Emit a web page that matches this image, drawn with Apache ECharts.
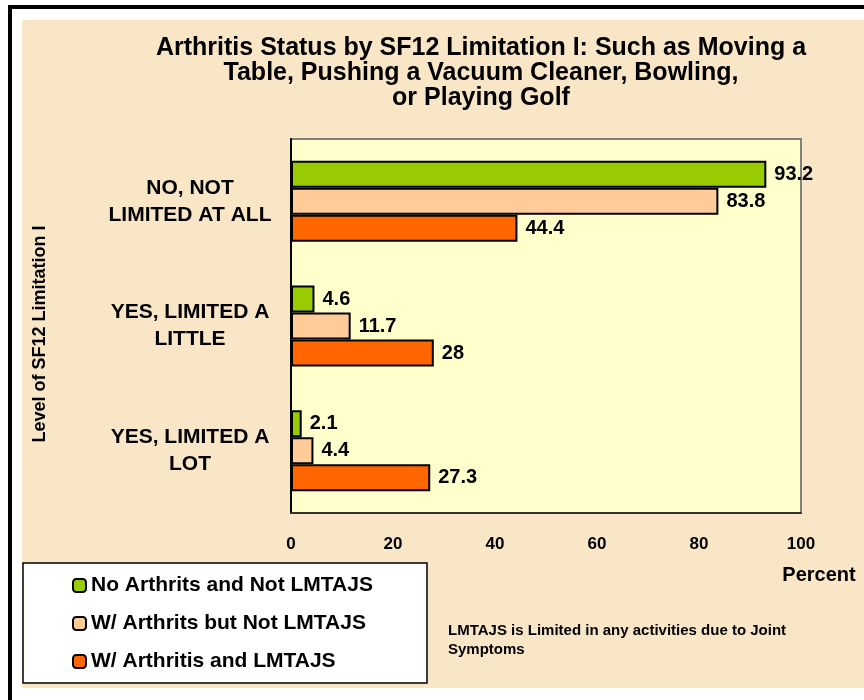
<!DOCTYPE html>
<html>
<head>
<meta charset="utf-8">
<title>Arthritis Status by SF12 Limitation I</title>
<script src="https://cdn.jsdelivr.net/npm/echarts@6/dist/echarts.min.js"></script>
<style>
    html, body { margin: 0; padding: 0; background: #fff; }
    #container { width: 864px; height: 700px; }
</style>
</head>
<body>
<div id="container"></div>
<script>
    var categories = ['NO, NOT\nLIMITED AT ALL', 'YES, LIMITED A\nLITTLE', 'YES, LIMITED A\nLOT'];
    var seriesNames = ['No Arthrits and Not LMTAJS', 'W/ Arthrits but Not LMTAJS', 'W/ Arthritis and LMTAJS'];
    var noArthritis = [93.2, 4.6, 2.1];
    var arthritisNotLimited = [83.8, 11.7, 4.4];
    var arthritisLimited = [44.4, 28, 27.3];
    var xTicks = [0, 20, 40, 60, 80, 100];
    var colors = ['#99CC00', '#FFCC99', '#FF6600'];

    var font = 'Liberation Sans, Arial, sans-serif';

    function makeSeries(name, data, color) {
        return {
            name: name,
            type: 'bar',
            data: data,
            barGap: '0%',
            barCategoryGap: '35%',
            itemStyle: { color: color, borderColor: '#000', borderWidth: 2 },
            label: {
                show: true,
                position: 'right',
                distance: 8,
                color: '#000',
                fontFamily: font,
                fontWeight: 'bold',
                fontSize: 20
            },
            emphasis: { disabled: true }
        };
    }

    var myChart = echarts.init(document.getElementById('container'));
    var option = {
        animation: false,
        textStyle: { fontFamily: font },
        graphic: [
            { type: 'rect', z: -10, shape: { x: 10, y: 7, width: 880, height: 720 },
              style: { fill: 'none', stroke: '#000', lineWidth: 4 } },
            { type: 'rect', z: -9, shape: { x: 22, y: 20, width: 842, height: 668 },
              style: { fill: '#F8E6C6' } },
            { type: 'rect', z: -8, shape: { x: 23, y: 563, width: 404, height: 120 },
              style: { fill: '#fff', stroke: '#000', lineWidth: 1.5 } },
            { type: 'text', x: 481, y: 73, style: {
                text: 'Arthritis Status by SF12 Limitation I: Such as Moving a\nTable, Pushing a Vacuum Cleaner, Bowling,\nor Playing Golf',
                font: 'bold 25px ' + font, fill: '#000', align: 'center', verticalAlign: 'middle', lineHeight: 25 } },
            { type: 'text', x: 40, y: 334, rotation: Math.PI / 2, style: {
                text: 'Level of SF12 Limitation I',
                font: 'bold 18px ' + font, fill: '#000', align: 'center', verticalAlign: 'middle' } },
            { type: 'text', x: 819, y: 575, style: {
                text: 'Percent',
                font: 'bold 20px ' + font, fill: '#000', align: 'center', verticalAlign: 'middle' } },
            { type: 'text', x: 448, y: 640, style: {
                text: 'LMTAJS is Limited in any activities due to Joint\nSymptoms',
                font: 'bold 15px ' + font, fill: '#000', align: 'left', verticalAlign: 'middle', lineHeight: 19 } }
        ],
        legend: {
            orient: 'vertical',
            left: 23,
            top: 563,
            padding: [12, 10, 10, 49],
            itemWidth: 13,
            itemHeight: 13,
            itemGap: 17,
            data: seriesNames,
            selectedMode: false,
            textStyle: { fontFamily: font, fontWeight: 'bold', fontSize: 21, color: '#000', padding: [0, 0, 0, 0] }
        },
        grid: {
            left: 291, top: 139, right: 63, bottom: 187,
            show: true, backgroundColor: '#FFFFCC', borderColor: '#808080', borderWidth: 2
        },
        xAxis: {
            type: 'value',
            min: xTicks[0],
            max: xTicks[xTicks.length - 1],
            interval: 20,
            splitLine: { show: false },
            axisLine: { show: true, lineStyle: { color: '#333', width: 2 } },
            axisTick: { show: false },
            axisLabel: { margin: 23, color: '#000', fontFamily: font, fontWeight: 'bold', fontSize: 17 }
        },
        yAxis: {
            type: 'category',
            data: categories,
            inverse: true,
            axisLine: { show: true, lineStyle: { color: '#000', width: 2 } },
            axisTick: { show: false },
            axisLabel: { margin: 101, align: 'center', color: '#000', fontFamily: font, fontWeight: 'bold', fontSize: 21, lineHeight: 27 }
        },
        series: [
            makeSeries(seriesNames[0], noArthritis, colors[0]),
            makeSeries(seriesNames[1], arthritisNotLimited, colors[1]),
            makeSeries(seriesNames[2], arthritisLimited, colors[2])
        ]
    };
    myChart.setOption(option);
</script>
</body>
</html>
